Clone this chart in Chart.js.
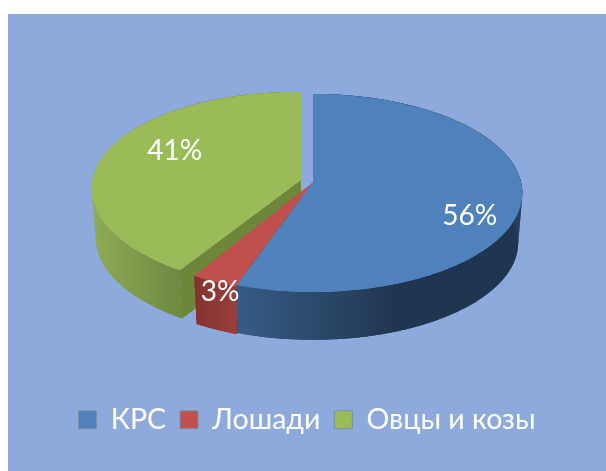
<!DOCTYPE html>
<html>
<head>
<meta charset="utf-8">
<title>Pie</title>
<style>
  html, body { margin: 0; padding: 0; background: #ffffff; overflow: hidden; }
  canvas { position: absolute; left: 8px; top: 14px; background: #8eaadc; }
</style>
<script src="https://cdn.jsdelivr.net/npm/chart.js@4/dist/chart.umd.min.js"></script>
</head>
<body>
<canvas id="myChart" width="598" height="457"></canvas>
<script>
var categories = ['КРС', 'Лошади', 'Овцы и козы'];
var shares = [56, 3, 41];

var colors = ['#4f81bd', '#c0504d', '#9bbb59'];
var cutColors = ['#2c4a6e', '#7d3432', '#6d8639'];
// wall shading, left to right
var wallStops = [
    [[0, '#365c86'], [0.55, '#203650'], [1, '#1f3550']],
    [[0, '#83332f'], [1, '#9a3f3c']],
    [[0, '#8fab55'], [1, '#6d8840']]
];
var wallRange = [[228, 520], [187, 228], [84, 175]];

// pie look: flat disc in perspective, each slice pulled out a bit
var apex = [[305, 168], [304, 169], [293, 166]];
var radiusX = 208, radiusY = 97.8, tilt = 0.111;
var depth = 50, bottomScale = 0.98;
var skew = [0, 0, 0.012];
// perspective moves the front edges a little, [start, end] in radians
var edgeNudge = [[0, -0.042], [-0.042, -0.028], [-0.01, 0]];
var labelSpot = [
    { f: 0.755, dx: 0, dy: 20 },
    { f: 1, dx: 13, dy: 12 },
    { f: 0.65, dx: 1, dy: -10 }
];

// angle is chart.js arc angle, f is radial fraction of the disc
function project(i, angle, f, lower)
{
    var s = Math.cos(angle) * f;
    var d = Math.sin(angle) * f;
    var w = 1 - tilt * d;
    var x = radiusX * s / w;
    var y = radiusY * d / w + skew[i] * radiusX * s / w;
    if (lower)
    {
        return [apex[i][0] + x * bottomScale, apex[i][1] + y * bottomScale + depth];
    }
    return [apex[i][0] + x, apex[i][1] + y];
}

function rimPoints(i, a, b, lower)
{
    var pts = [];
    var steps = Math.max(8, Math.ceil((b - a) * 80));
    for (var n = 0; n <= steps; n++)
    {
        pts.push(project(i, a + (b - a) * n / steps, 1, lower));
    }
    return pts;
}

function fillPoly(ctx, pts, fill)
{
    ctx.beginPath();
    ctx.moveTo(pts[0][0], pts[0][1]);
    for (var n = 1; n < pts.length; n++)
    {
        ctx.lineTo(pts[n][0], pts[n][1]);
    }
    ctx.closePath();
    ctx.fillStyle = fill;
    ctx.fill();
}

var pie3d = {
    id: 'pie3d',
    beforeDatasetsDraw: function(chart)
    {
        var ctx = chart.ctx;
        var arcs = chart.getDatasetMeta(0).data;

        // back to front: green, red, blue
        [2, 1, 0].forEach(function(i)
        {
            var a = arcs[i].startAngle + edgeNudge[i][0];
            var b = arcs[i].endAngle + edgeNudge[i][1];
            var top = rimPoints(i, a, b, false);
            var low = rimPoints(i, a, b, true);

            var grad = ctx.createLinearGradient(wallRange[i][0], 0, wallRange[i][1], 0);
            wallStops[i].forEach(function(st) { grad.addColorStop(st[0], st[1]); });
            fillPoly(ctx, top.concat(low.slice().reverse()), grad);
            // strips too, so the wall reaches the outline at the far left and right
            for (var n = 0; n < top.length - 1; n++)
            {
                fillPoly(ctx, [top[n], top[n + 1], low[n + 1], low[n]], grad);
            }

            // cut wall along the start edge
            var c = project(i, a, 1, false), cl = project(i, a, 1, true);
            var m = project(i, a, 0, false), ml = project(i, a, 0, true);
            fillPoly(ctx, [m, c, cl, ml], cutColors[i]);

            fillPoly(ctx, [apex[i]].concat(top), colors[i]);
        });
        return false;
    },
    afterDraw: function(chart)
    {
        var ctx = chart.ctx;
        var arcs = chart.getDatasetMeta(0).data;
        ctx.save();
        ctx.font = '28px Lato';
        ctx.fillStyle = '#ffffff';
        ctx.textAlign = 'center';
        ctx.textBaseline = 'middle';
        arcs.forEach(function(arc, i)
        {
            var p = project(i, (arc.startAngle + arc.endAngle) / 2, labelSpot[i].f, false);
            ctx.fillText(shares[i] + '%', p[0] + labelSpot[i].dx, p[1] + labelSpot[i].dy);
        });
        ctx.restore();
    }
};

var myChart = new Chart(document.getElementById('myChart').getContext('2d'),
{
    type: 'pie',
    data:
    {
        labels: categories,
        datasets: [{
            data: shares,
            backgroundColor: colors,
            borderColor: '#7f8fa6',
            borderWidth: 1
        }]
    },
    options:
    {
        responsive: false,
        animation: false,
        layout: { padding: { bottom: 27 } },
        plugins:
        {
            tooltip: { enabled: false },
            legend:
            {
                position: 'bottom',
                labels:
                {
                    boxWidth: 18,
                    boxHeight: 18,
                    padding: 14,
                    color: '#ffffff',
                    font: { family: 'Lato', size: 28.5 }
                }
            }
        }
    },
    plugins: [pie3d]
});
</script>
</body>
</html>
